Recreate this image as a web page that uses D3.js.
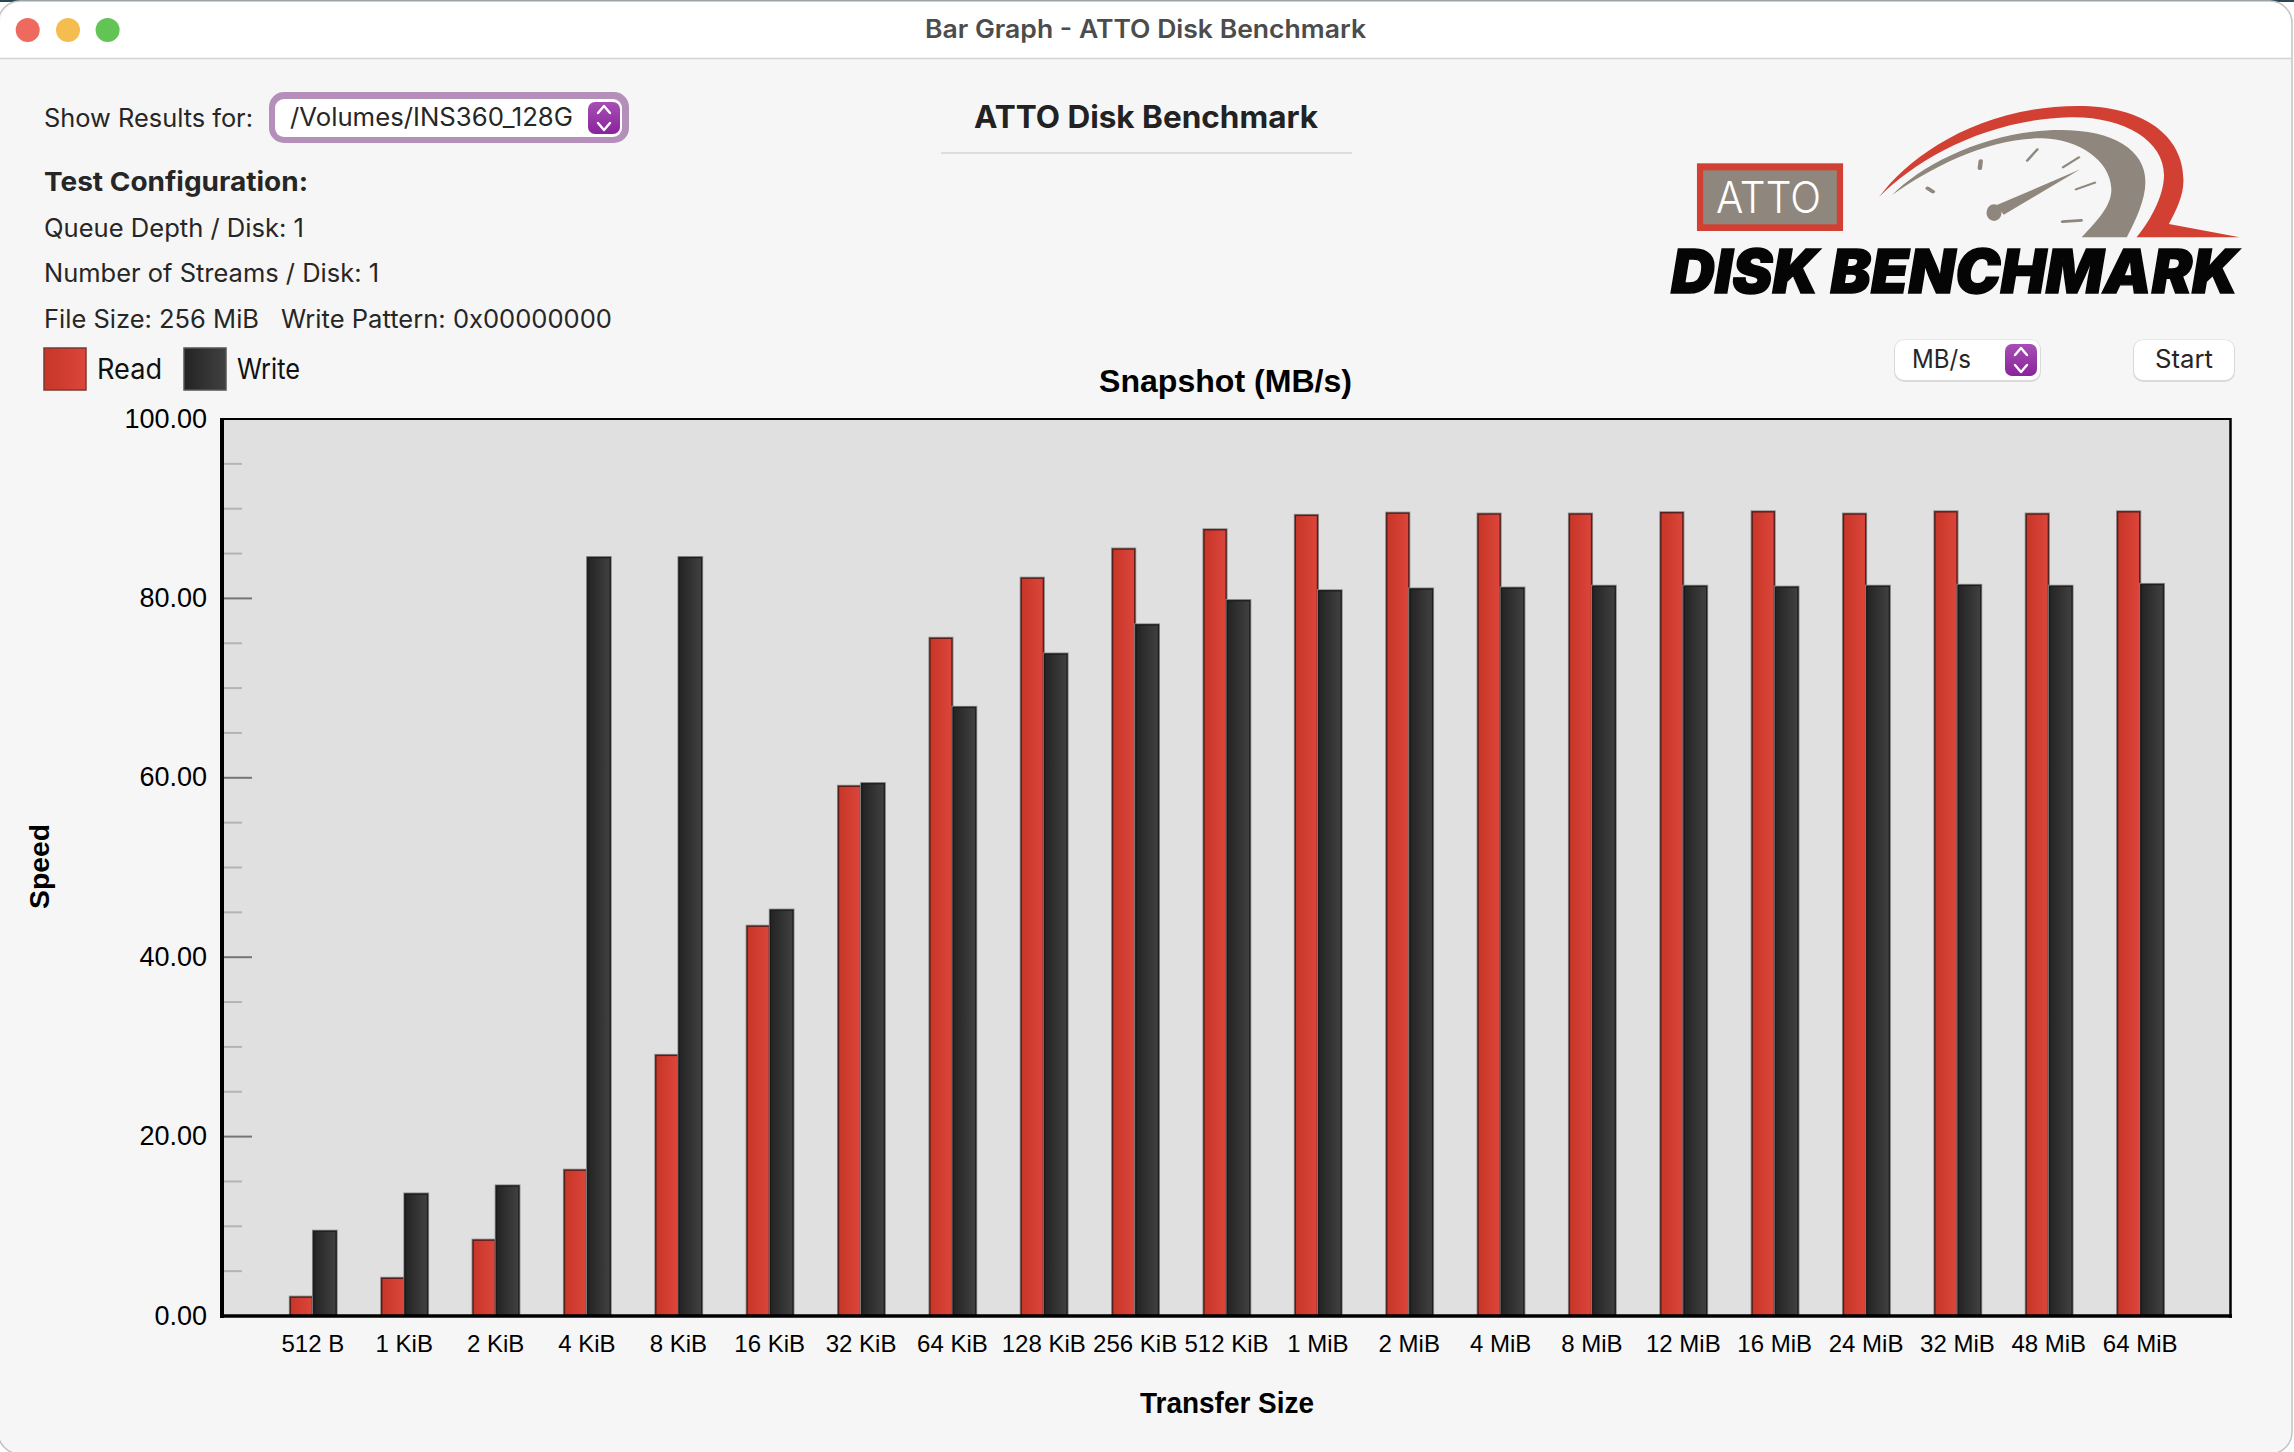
<!DOCTYPE html>
<html>
<head>
<meta charset="utf-8">
<title>ATTO Disk Benchmark</title>
<script src="https://cdn.jsdelivr.net/npm/d3@7/dist/d3.min.js"></script>
<style>
  html, body { margin: 0; padding: 0; background: #ffffff; }
  svg { display: block; }
  .ui { font-family: Inter, "Noto Sans", sans-serif; }
  .chart-text { font-family: "Liberation Sans", Arial, sans-serif; fill: #000; }
</style>
</head>
<body>
<svg id="app" width="2294" height="1452"></svg>
<script>
// Benchmark results, in MB/s, one entry per transfer size
const transferSizes = ["512 B", "1 KiB", "2 KiB", "4 KiB", "8 KiB", "16 KiB", "32 KiB", "64 KiB", "128 KiB", "256 KiB", "512 KiB",
  "1 MiB", "2 MiB", "4 MiB", "8 MiB", "12 MiB", "16 MiB", "24 MiB", "32 MiB", "48 MiB", "64 MiB"];
const readSpeeds = [2.05, 4.15, 8.4, 16.2, 29, 43.4, 59, 75.5, 82.2, 85.45, 87.6, 89.2, 89.45, 89.35, 89.35, 89.5, 89.6, 89.35, 89.6, 89.35, 89.6];
const writeSpeeds = [9.4, 13.55, 14.45, 84.5, 84.5, 45.2, 59.3, 67.8, 73.75, 77, 79.7, 80.8, 81, 81.1, 81.3, 81.3, 81.2, 81.3, 81.4, 81.3, 81.5];
const majorTicks = [0, 20, 40, 60, 80, 100];
const minorTicks = [5, 10, 15, 25, 30, 35, 45, 50, 55, 65, 70, 75, 85, 90, 95];
const configLines = ["Queue Depth / Disk: 1", "Number of Streams / Disk: 1"];

const svg = d3.select("#app");
const defs = svg.append("defs");

function hGradient(id, from, to) {
  const g = defs.append("linearGradient").attr("id", id).attr("x1", 0).attr("x2", 1).attr("y1", 0).attr("y2", 0);
  g.append("stop").attr("offset", 0).attr("stop-color", from);
  g.append("stop").attr("offset", 1).attr("stop-color", to);
}
hGradient("readFill", "#c73627", "#dc453b");
hGradient("writeFill", "#232323", "#414141");
const vg = defs.append("linearGradient").attr("id", "stepper").attr("x1", 0).attr("x2", 0).attr("y1", 0).attr("y2", 1);
vg.append("stop").attr("offset", 0).attr("stop-color", "#a64fb4");
vg.append("stop").attr("offset", 1).attr("stop-color", "#8a239c");

// Text helper: places a string and pins it to a known horizontal extent
function label(parent, str, x, y, width, size, opts = {}) {
  const t = parent.append("text")
    .attr("class", opts.cls || "ui")
    .attr("x", x).attr("y", y)
    .attr("font-size", size)
    .attr("font-weight", opts.weight || 400)
    .attr("fill", opts.fill || "#262626")
    .text(str);
  if (width) t.attr("textLength", width).attr("lengthAdjust", "spacingAndGlyphs");
  return t;
}

// Window frame
svg.append("rect").attr("width", 2294).attr("height", 1452).attr("fill", "#ffffff");
svg.append("rect").attr("width", 2294).attr("height", 2).attr("fill", "#2b4753");
svg.append("rect").attr("x", -2).attr("y", 1).attr("width", 2294).attr("height", 1453).attr("rx", 22)
  .attr("fill", "#f6f6f6").attr("stroke", "#c4c4c4").attr("stroke-width", 1.5);
svg.append("path").attr("d", "M0,58 V23 A22,22 0 0 1 22,2 H2270 A22,22 0 0 1 2291,23 V58 Z").attr("fill", "#ffffff");
svg.append("line").attr("x1", 0).attr("x2", 2291).attr("y1", 58.5).attr("y2", 58.5).attr("stroke", "#d4d4d4").attr("stroke-width", 1.5);
[[27.7, "#ee6a5f"], [68, "#f5bd4f"], [107.6, "#61c454"]].forEach(([cx, c]) => {
  svg.append("circle").attr("cx", cx).attr("cy", 30).attr("r", 12).attr("fill", c);
});
label(svg, "Bar Graph - ATTO Disk Benchmark", 925, 38, 441, 25, { weight: 600, fill: "#4c4c4c" });

// Header controls and test configuration
label(svg, "ATTO Disk Benchmark", 974, 128, 344, 31, { weight: 700, fill: "#222" });
svg.append("line").attr("x1", 941).attr("x2", 1352).attr("y1", 153).attr("y2", 153).attr("stroke", "#dddddd").attr("stroke-width", 2);

label(svg, "Show Results for:", 44, 127, 209, 25);
svg.append("rect").attr("x", 269).attr("y", 92).attr("width", 360).attr("height", 51).attr("rx", 15).attr("fill", "#b48fb9");
svg.append("rect").attr("x", 275).attr("y", 99).attr("width", 347).attr("height", 38).attr("rx", 9).attr("fill", "#ffffff");
label(svg, "/Volumes/INS360_128G", 290, 126, 283, 25);

function stepper(x, y, w, h) {
  svg.append("rect").attr("x", x).attr("y", y).attr("width", w).attr("height", h).attr("rx", 7).attr("fill", "url(#stepper)");
  const cx = x + w / 2, cy = y + h / 2;
  svg.append("path")
    .attr("d", `M${cx - 6},${cy - 5} L${cx},${cy - 12} L${cx + 6},${cy - 5} M${cx - 6},${cy + 5} L${cx},${cy + 12} L${cx + 6},${cy + 5}`)
    .attr("fill", "none").attr("stroke", "#fff").attr("stroke-width", 2.4).attr("stroke-linecap", "round").attr("stroke-linejoin", "round");
}
stepper(588, 102, 32, 32);

label(svg, "Test Configuration:", 44, 191, 264, 26, { weight: 700 });
label(svg, configLines[0], 44, 237, 260, 25);
label(svg, configLines[1], 44, 282, 335, 25);
label(svg, "File Size: 256 MiB", 44, 328, 215, 25);
label(svg, "Write Pattern: 0x00000000", 281, 328, 331, 25);

svg.append("rect").attr("x", 44).attr("y", 348).attr("width", 42).attr("height", 42).attr("fill", "url(#readFill)").attr("stroke", "#7a3a32").attr("stroke-width", 1.5);
svg.append("rect").attr("x", 184).attr("y", 348).attr("width", 42).attr("height", 42).attr("fill", "url(#writeFill)").attr("stroke", "#555").attr("stroke-width", 1.5);
label(svg, "Read", 97, 379, 65, 28, { fill: "#111" });
label(svg, "Write", 237, 379, 63, 28, { fill: "#111" });

function pushButton(x, y, w, h) {
  svg.append("rect").attr("x", x - 1).attr("y", y - 0.5).attr("width", w + 2).attr("height", h + 2.5).attr("rx", 10).attr("fill", "#dadada");
  svg.append("rect").attr("x", x).attr("y", y).attr("width", w).attr("height", h).attr("rx", 9).attr("fill", "#ffffff");
}
pushButton(1895, 340, 145, 40);
label(svg, "MB/s", 1912, 368, 59, 25);
stepper(2005, 344, 32, 32);
pushButton(2134, 340, 100, 40);
label(svg, "Start", 2155, 368, 58, 25);

// Speedometer logo
const logo = svg.append("g").attr("transform", "translate(1600,80) scale(0.4427,0.3333)");
logo.append("rect").attr("x", 219).attr("y", 250).attr("width", 330).attr("height", 203).attr("fill", "#d23f33");
logo.append("rect").attr("x", 233).attr("y", 271).attr("width", 302).attr("height", 162).attr("fill", "#8f877d");
logo.append("path")
  .attr("d", "M630,352 C700,225 860,78 1080,78 C1225,78 1318,165 1318,300 C1318,350 1300,395 1285,432 L1445,472 L1212,472 C1250,410 1274,340 1274,285 C1274,180 1180,108 1060,112 C880,118 720,230 630,352 Z")
  .attr("fill", "#d23f33");
logo.append("path")
  .attr("d", "M660,345 C730,250 880,150 1040,150 C1160,150 1232,210 1232,305 C1232,360 1210,420 1190,472 L1088,472 C1125,420 1157,375 1155,325 C1152,240 1080,178 1000,175 C880,172 750,260 660,345 Z")
  .attr("fill", "#8f877d");
logo.append("path").attr("d", "M1085,268 L895,376 L912,404 Z").attr("fill", "#8f877d");
logo.append("ellipse").attr("cx", 890).attr("cy", 398).attr("rx", 17).attr("ry", 25).attr("fill", "#8f877d");
[[740, 325, 752, 335, 10], [860, 243, 858, 265, 10], [988, 208, 965, 242, 6], [1082, 232, 1046, 262, 6], [1118, 308, 1075, 328, 6], [1045, 425, 1087, 421, 8]]
  .forEach(([x1, y1, x2, y2, w]) => {
    logo.append("line").attr("x1", x1).attr("y1", y1).attr("x2", x2).attr("y2", y2)
      .attr("stroke", "#8f877d").attr("stroke-width", w).attr("stroke-linecap", "round");
  });
label(svg, "ATTO", 1716, 213, 105, 43, { weight: 300, fill: "#ffffff" });
label(svg, "DISK BENCHMARK", 1671, 293, 567, 60, { weight: 900, fill: "#050505" })
  .attr("font-family", "Roboto, sans-serif").attr("font-style", "italic")
  .attr("stroke", "#050505").attr("stroke-width", 1.4);

// Chart area
const plot = { left: 222, right: 2230.5, top: 419, bottom: 1315.5 };
const x = d3.scalePoint().domain(transferSizes).range([221, 2231]).padding(1);
const y = d3.scaleLinear().domain([0, 100]).range([plot.bottom, 418.5]);
const barWidth = x.step() * 0.26;

label(svg, "Snapshot (MB/s)", 1099, 392, 253, 31.5, { weight: 700, cls: "chart-text", fill: "#000" });

svg.append("rect").attr("x", plot.left).attr("y", plot.top)
  .attr("width", plot.right - plot.left).attr("height", plot.bottom - plot.top).attr("fill", "#e0e0e0");

// Minor and major tick marks run inward from the value axis
const minorAxis = d3.axisRight(y).tickValues(minorTicks).tickSize(20).tickFormat("");
svg.append("g").attr("transform", "translate(222,0)").call(minorAxis)
  .call(g => g.select(".domain").remove())
  .call(g => g.selectAll("line").attr("stroke", "#b4b4b4").attr("stroke-width", 2));
const majorAxis = d3.axisRight(y).tickValues(majorTicks.slice(1, -1)).tickSize(30).tickFormat("");
svg.append("g").attr("transform", "translate(222,0)").call(majorAxis)
  .call(g => g.select(".domain").remove())
  .call(g => g.selectAll("line").attr("stroke", "#757575").attr("stroke-width", 2));

const series = [
  { name: "read", values: readSpeeds, fill: "url(#readFill)", edge: "rgba(60,15,12,0.8)", offset: 1.2 - barWidth, width: barWidth - 0.6 },
  { name: "write", values: writeSpeeds, fill: "url(#writeFill)", edge: "rgba(20,20,20,0.85)", offset: 0.6, width: barWidth }
];
series.forEach(s => {
  const g = svg.append("g").attr("class", s.name);
  const rows = transferSizes.map((size, i) => ({ size, value: s.values[i] }));
  // light halo around each bar, then the filled bar with a dark inner edge
  g.selectAll("rect.halo").data(rows).join("rect").attr("class", "halo")
    .attr("x", d => x(d.size) + s.offset - 1)
    .attr("y", d => y(d.value) - 1.5)
    .attr("width", s.width + 2)
    .attr("height", d => y(0) - y(d.value) + 1.5)
    .attr("fill", "#8f8f8f");
  g.selectAll("rect.bar").data(rows).join("rect").attr("class", "bar")
    .attr("x", d => x(d.size) + s.offset + 0.5)
    .attr("y", d => y(d.value))
    .attr("width", s.width - 1)
    .attr("height", d => y(0) - y(d.value))
    .attr("fill", s.fill)
    .attr("stroke", s.edge)
    .attr("stroke-width", 1.4);
});

// Plot frame: heavy on the axes, lighter at top and right
svg.append("line").attr("x1", 221).attr("x2", 2231).attr("y1", 419).attr("y2", 419).attr("stroke", "#000").attr("stroke-width", 2);
svg.append("line").attr("x1", 2230.5).attr("x2", 2230.5).attr("y1", 418).attr("y2", 1318).attr("stroke", "#000").attr("stroke-width", 2.5);
svg.append("line").attr("x1", 222).attr("x2", 222).attr("y1", 418).attr("y2", 1318).attr("stroke", "#000").attr("stroke-width", 4);
svg.append("line").attr("x1", 220).attr("x2", 2232).attr("y1", 1316).attr("y2", 1316).attr("stroke", "#000").attr("stroke-width", 3.6);

const yAxis = d3.axisLeft(y).tickValues(majorTicks).tickSize(0).tickPadding(0).tickFormat(d3.format(".2f"));
svg.append("g").attr("transform", "translate(207,0)").call(yAxis)
  .call(g => g.select(".domain").remove())
  .call(g => g.selectAll("text").attr("class", "chart-text").attr("font-size", 27).attr("font-family", "Liberation Sans").attr("fill", "#000"));

const xAxis = d3.axisBottom(x).tickSize(0).tickPadding(0);
svg.append("g").attr("transform", "translate(0,1335)").call(xAxis)
  .call(g => g.select(".domain").remove())
  .call(g => g.selectAll("text").attr("class", "chart-text").attr("font-size", 24).attr("font-family", "Liberation Sans").attr("fill", "#000").attr("dy", "0.71em").attr("y", 0));

label(svg, "Transfer Size", 1140, 1413, 174, 29.5, { weight: 700, cls: "chart-text", fill: "#000" });
svg.append("text").attr("class", "chart-text")
  .attr("transform", "translate(49,909) rotate(-90)")
  .attr("font-size", 28).attr("font-weight", 700)
  .attr("textLength", 85).attr("lengthAdjust", "spacingAndGlyphs")
  .text("Speed");
</script>
</body>
</html>
